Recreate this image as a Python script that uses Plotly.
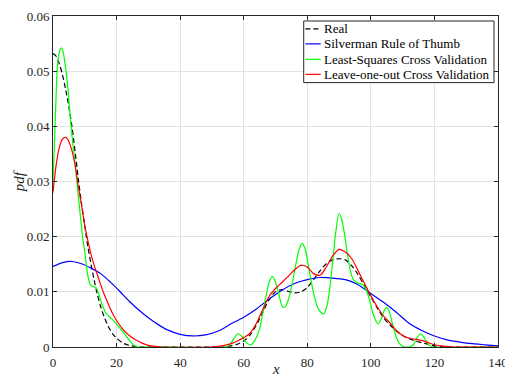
import plotly.graph_objects as go

# Kernel density estimates of the sample, compared with the true density
real_x = [0, 1, 2, 3, 4, 5, 6, 7, 8, 9, 10, 11, 12, 13, 14, 15, 16, 17, 18, 19, 20,
          22, 24, 26, 28, 30, 50, 54, 56, 58, 60, 62, 64, 66, 68, 70, 72, 74, 76, 78,
          80, 82, 84, 86, 88, 90, 92, 94, 96, 98, 100, 102, 104, 106, 108, 110, 112,
          114, 116, 118, 120, 122, 125, 140]
real_y = [0.0532, 0.0527, 0.0513, 0.0493, 0.0466, 0.0435, 0.0398, 0.0352, 0.0303,
          0.0259, 0.0219, 0.0181, 0.0149, 0.0120, 0.0094, 0.0073, 0.0056, 0.0042,
          0.0031, 0.0022, 0.0016, 0.0007, 0.0003, 0.0001, 0.0, 0.0, 0.0, 0.0, 0.0002,
          0.0005, 0.0011, 0.0022, 0.0040, 0.0063, 0.0086, 0.0100, 0.0104, 0.0101,
          0.0098, 0.0100, 0.0108, 0.0122, 0.0138, 0.0151, 0.0158, 0.0160, 0.0158,
          0.0147, 0.0131, 0.0111, 0.0091, 0.0071, 0.0053, 0.0040, 0.0029, 0.0021,
          0.0015, 0.0011, 0.0008, 0.0005, 0.0002, 0.0001, 0.0, 0.0]

silverman_x = [0, 3, 6, 9, 12, 15, 18, 21, 24, 27, 30, 33, 36, 40, 44, 48, 52, 56, 60,
               64, 68, 72, 76, 80, 84, 88, 92, 96, 100, 104, 108, 112, 116, 120, 124,
               128, 132, 136, 140]
silverman_y = [0.0146, 0.0153, 0.0155, 0.0151, 0.0143, 0.0133, 0.0118, 0.0101, 0.0083,
               0.0067, 0.0053, 0.0041, 0.0031, 0.0023, 0.0020, 0.0022, 0.0029, 0.0042,
               0.0054, 0.0069, 0.0087, 0.0103, 0.0115, 0.0122, 0.0126, 0.0125, 0.0122,
               0.0113, 0.0097, 0.0081, 0.0063, 0.0043, 0.0030, 0.0020, 0.0013, 0.0009,
               0.0006, 0.0004, 0.0002]

lscv_x = [0, 0.4, 0.8, 1.3, 1.8, 2.3, 2.7, 3.2, 3.7, 4.2, 4.8, 5.6, 6.3, 7.0, 7.5, 8.4,
          9.3, 10.0, 11.0, 11.8, 12.6, 13.5, 14.5, 15.5, 16.5, 17.5, 18.5, 19.5, 20.5,
          21.5, 22.5, 23.5, 24.5, 25.5, 26.5, 30, 54, 55.5, 57, 58.2, 59.5, 61, 62.3,
          63.5, 65, 66, 67, 68, 69, 70, 71, 72.3, 73.3, 74.4, 75.5, 76.5, 77.5, 78.4,
          79.3, 80.2, 81.2, 82.3, 83.5, 85.1, 86.2, 87, 88, 89, 90, 90.8, 91.7, 92.6,
          93.5, 94.5, 95.5, 96.5, 97.5, 98.5, 99.6, 100.6, 101.5, 102.3, 103.2, 104.2,
          105, 105.8, 106.8, 108, 109, 110.2, 112.5, 113.5, 114.5, 115.6, 116.7, 117.8,
          119, 120, 140]
lscv_y = [0.0300, 0.0360, 0.0425, 0.0500, 0.0528, 0.0540, 0.0542, 0.0535, 0.0517,
          0.0495, 0.0462, 0.0405, 0.0365, 0.0330, 0.0300, 0.0250, 0.0200, 0.0172,
          0.0128, 0.0112, 0.0110, 0.0108, 0.0094, 0.0076, 0.0063, 0.0056, 0.0051,
          0.0045, 0.0038, 0.0031, 0.0024, 0.0016, 0.0009, 0.0003, 0.0, 0.0, 0.0,
          0.0003, 0.0016, 0.0024, 0.0019, 0.0007, 0.0004, 0.0012, 0.0033, 0.0062,
          0.0092, 0.0117, 0.0128, 0.0118, 0.0097, 0.0072, 0.0075, 0.0093, 0.0122,
          0.0153, 0.0178, 0.0188, 0.0178, 0.0152, 0.0120, 0.0090, 0.0069, 0.0060,
          0.0075, 0.0103, 0.0155, 0.0210, 0.0242, 0.0232, 0.0205, 0.0170, 0.0140,
          0.0122, 0.0117, 0.0115, 0.0113, 0.0104, 0.0085, 0.0062, 0.0048, 0.0042,
          0.0050, 0.0066, 0.0072, 0.0064, 0.0042, 0.0018, 0.0006, 0.0001, 0.0001,
          0.0005, 0.0016, 0.0024, 0.0018, 0.0007, 0.0001, 0.0, 0.0]

loo_x = [0, 1, 2, 3, 4, 5, 6, 7, 8, 9, 10, 11, 12, 13, 14, 15, 16, 17, 18, 19, 20, 22,
         24, 26, 28, 30, 32, 34, 50, 52, 54, 56, 58, 60, 62, 64, 66, 68, 70, 72, 74, 76,
         78, 80, 82, 84, 86, 88, 90, 92, 94, 96, 98, 100, 102, 104, 106, 108, 110, 112,
         114, 116, 118, 120, 122, 124, 126, 130, 140]
loo_y = [0.0280, 0.0330, 0.0362, 0.0377, 0.0380, 0.0372, 0.0355, 0.0328, 0.0290,
         0.0256, 0.0220, 0.0192, 0.0167, 0.0147, 0.0130, 0.0113, 0.0097, 0.0083,
         0.0070, 0.0058, 0.0048, 0.0032, 0.0021, 0.0013, 0.0007, 0.0003, 0.0001, 0.0,
         0.0, 0.0001, 0.0003, 0.0006, 0.0011, 0.0017, 0.0025, 0.0043, 0.0068, 0.0092,
         0.0106, 0.0117, 0.0128, 0.0140, 0.0148, 0.0145, 0.0133, 0.0130, 0.0145,
         0.0165, 0.0177, 0.0172, 0.0160, 0.0138, 0.0115, 0.0093, 0.0073, 0.0056,
         0.0044, 0.0030, 0.0021, 0.0016, 0.0014, 0.0012, 0.0008, 0.0004, 0.0002,
         0.0001, 0.0, 0.0, 0.0]

series_names = ["Real", "Silverman Rule of Thumb", "Least-Squares Cross Validation",
                "Leave-one-out Cross Validation"]
series_colors = ["#000000", "#0000ff", "#00ff00", "#ff0000"]
series_dashes = ["5px,3px", "solid", "solid", "solid"]

x_ticks = [0, 20, 40, 60, 80, 100, 120, 140]
y_ticks = [0, 0.01, 0.02, 0.03, 0.04, 0.05, 0.06]
y_tick_text = ["0", "0.01", "0.02", "0.03", "0.04", "0.05", "0.06"]

SERIF = "Liberation Serif"
AXIS_COLOR = "#262626"
GRID_COLOR = "#e2e2e2"

fig = go.Figure()
data = [(real_x, real_y), (silverman_x, silverman_y), (lscv_x, lscv_y), (loo_x, loo_y)]
for (xs, ys), name, color, dash in zip(data, series_names, series_colors, series_dashes):
    fig.add_trace(go.Scatter(
        x=xs, y=ys, name=name, mode="lines",
        line=dict(color=color, width=1.2, dash=dash, shape="spline", smoothing=0.8),
        showlegend=False,
    ))

# Boxed legend in the upper-right corner of the axes
box_x0, box_x1 = 0.5634, 0.991
box_y0, box_y1 = 0.7988, 0.9849
fig.add_shape(type="rect", xref="paper", yref="paper", x0=box_x0, x1=box_x1,
              y0=box_y0, y1=box_y1, line=dict(color=AXIS_COLOR, width=1),
              fillcolor="white", layer="above")
row_y = [0.9611, 0.9158, 0.8691, 0.8237]
for name, color, dash, yy in zip(series_names, series_colors, series_dashes, row_y):
    fig.add_shape(type="line", xref="paper", yref="paper", x0=0.5672, x1=0.6016,
                  y0=yy, y1=yy, line=dict(color=color, width=1.2, dash=dash),
                  layer="above")
    fig.add_annotation(xref="paper", yref="paper", x=0.6036, y=yy, text=name,
                       showarrow=False, xanchor="left", yanchor="middle",
                       font=dict(family=SERIF, size=13, color="#000000"))

# Axis titles placed just outside the axes
fig.add_annotation(xref="paper", yref="paper", x=0.5, y=-0.067, text="<i>x</i>",
                   showarrow=False, xanchor="center", yanchor="middle",
                   font=dict(family=SERIF, size=15, color=AXIS_COLOR))
fig.add_annotation(xref="paper", yref="paper", x=-0.077, y=0.5, text="<i>pdf</i>",
                   showarrow=False, xanchor="center", yanchor="middle", textangle=-90,
                   font=dict(family=SERIF, size=15, color=AXIS_COLOR))

axis_common = dict(
    showgrid=True, gridcolor=GRID_COLOR, gridwidth=1, zeroline=False,
    showline=True, linecolor=AXIS_COLOR, linewidth=1, mirror="ticks",
    ticks="inside", ticklen=4, tickcolor=AXIS_COLOR, ticklabeloverflow="allow",
    tickfont=dict(family=SERIF, size=13, color=AXIS_COLOR), automargin=False,
)
fig.update_xaxes(range=[0, 140], tickvals=x_ticks, ticklabelstandoff=3, **axis_common)
fig.update_yaxes(range=[0, 0.06], tickvals=y_ticks, ticktext=y_tick_text, **axis_common)

fig.update_layout(
    width=505, height=378,
    margin=dict(l=53, r=7, t=16, b=31),
    paper_bgcolor="white", plot_bgcolor="white",
    font=dict(family=SERIF),
)

fig.write_html("out.html")
